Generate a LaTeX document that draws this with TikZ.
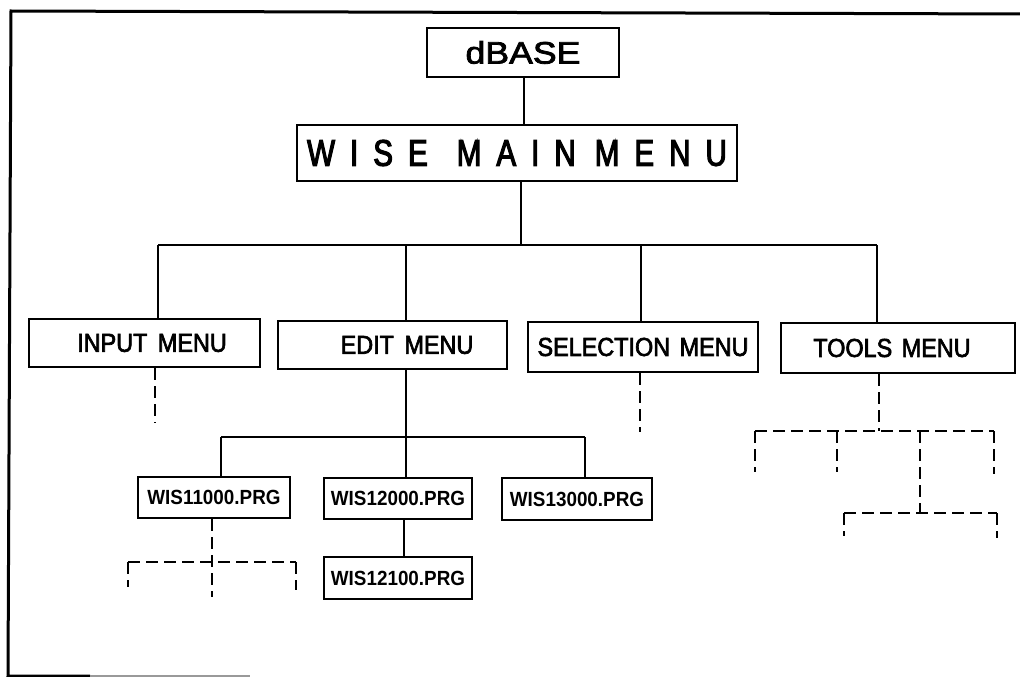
\documentclass[tikz,border=0pt]{standalone}
\usepackage{fontspec}
\setmainfont{Liberation Sans}
\newfontfamily\dbfont[FakeStretch=1.15,FakeBold=2.5]{Liberation Sans}
\newfontfamily\wisefont[FakeStretch=0.8,FakeBold=3]{Liberation Sans}
\newfontfamily\menufont[FakeStretch=0.9,FakeBold=2.5]{Liberation Sans}
\newfontfamily\filefont[FakeStretch=0.92]{Liberation Sans Bold}
\newcommand{\lsp}{\kern15pt}
\begin{document}
\begin{tikzpicture}[x=1pt,y=-1pt,
  box/.style={draw=black, line width=2.8pt, inner sep=0pt, align=center},
  mainline/.style={line width=2.6pt},
  subline/.style={line width=2pt},
  dashline/.style={line width=2.4pt, dash pattern=on 12pt off 6pt},
  frameline/.style={line width=3pt}
]
\useasboundingbox (0,0) rectangle (1020,677);
% frame
\coordinate (ftl) at (11,11);
\coordinate (ftr) at (1022,14);
\coordinate (fbl) at (8,676);
\coordinate (fbm) at (90,676);
\coordinate (fbr) at (250,676);
\draw[frameline] (ftr) -- (ftl) -- (fbl) -- (fbm);
\draw[frameline, black!40] (fbm) -- (fbr);

% top boxes
\node[box, minimum width=192pt, minimum height=49pt] (dbase) at (523,52.5)
  {\dbfont\fontsize{31}{31}\selectfont dBASE};
\node[box, minimum width=440pt, minimum height=56pt] (wise) at (517,153)
  {\wisefont\fontsize{37}{37}\selectfont W\lsp I\lsp S\lsp E\kern29pt M\lsp A\lsp I\lsp N\kern19pt M\lsp E\lsp N\lsp U};

% menu boxes
\node[box, minimum width=231pt, minimum height=48pt] (input) at (144.5,343)
  {\menufont\fontsize{26}{26}\selectfont\hspace*{15pt}INPUT\ \kern4pt MENU};
\node[box, minimum width=229pt, minimum height=48pt] (edit) at (392.5,345)
  {\menufont\fontsize{26}{26}\selectfont\hspace*{29pt}EDIT\ \kern4pt MENU};
\node[box, minimum width=230pt, minimum height=50pt] (sel) at (643,347)
  {\menufont\fontsize{26}{26}\selectfont SELECTION\ \kern3pt MENU};
\node[box, minimum width=234pt, minimum height=50pt] (tools) at (898,348)
  {\menufont\fontsize{26}{26}\selectfont TOOLS\ \kern3pt MENU\hspace*{12pt}};

% program boxes
\node[box, minimum width=152pt, minimum height=41pt] (w11) at (214,497.5)
  {\filefont\fontsize{20.5}{20.5}\selectfont WIS11000.PRG};
\node[box, minimum width=148pt, minimum height=41pt] (w12) at (398,498.5)
  {\filefont\fontsize{20.5}{20.5}\selectfont WIS12000.PRG};
\node[box, minimum width=150pt, minimum height=42pt] (w13) at (577,499)
  {\filefont\fontsize{20.5}{20.5}\selectfont WIS13000.PRG};
\node[box, minimum width=148pt, minimum height=42pt] (w121) at (398,578)
  {\filefont\fontsize{20.5}{20.5}\selectfont WIS12100.PRG};

% main connectors
\coordinate (c1) at (524,0);
\draw[mainline] (dbase.south -| c1) -- (wise.north -| c1);
\coordinate (b0) at (521,245);
\coordinate (bl) at (158,245);
\coordinate (be) at (406,245);
\coordinate (bs) at (641,245);
\coordinate (br) at (877,245);
\draw[mainline] (wise.south -| b0) -- (b0);
\draw[mainline] (bl) -- (br);
\draw[mainline] (bl) -- (bl |- input.north);
\draw[mainline] (be) -- (be |- edit.north);
\draw[mainline] (bs) -- (bs |- sel.north);
\draw[mainline] (br) -- (br |- tools.north);

% edit subtree
\coordinate (sl) at (221,437);
\coordinate (sm) at (406,437);
\coordinate (sr) at (585,437);
\coordinate (sv) at (404,0);
\draw[subline] (edit.south -| sm) -- (sm);
\draw[mainline] (sl) -- (sr);
\draw[subline] (sl) -- (sl |- w11.north);
\draw[subline] (sm) -- (sm |- w12.north);
\draw[subline] (sr) -- (sr |- w13.north);
\draw[subline] (w12.south -| sv) -- (w121.north -| sv);

% dashed stubs under menus
\coordinate (di) at (155,423);
\draw[dashline] (input.south -| di) -- (di);
\coordinate (ds) at (640,432);
\draw[dashline] (sel.south -| ds) -- (ds);

% tools dashed tree
\coordinate (tv) at (879,431);
\coordinate (t1) at (755,431);
\coordinate (t2) at (837,431);
\coordinate (t3) at (920,431);
\coordinate (t4) at (994,431);
\coordinate (t1e) at (755,472);
\coordinate (t2e) at (837,472);
\coordinate (t3e) at (920,513);
\coordinate (t4e) at (994,474);
\draw[dashline] (tools.south -| tv) -- (tv);
\draw[dashline] (t1) -- (t4);
\draw[dashline] (t1) -- (t1e);
\draw[dashline] (t2) -- (t2e);
\draw[dashline] (t3) -- (t3e);
\draw[dashline] (t4) -- (t4e);
\coordinate (u1) at (844,513);
\coordinate (u2) at (997,513);
\coordinate (u1e) at (844,536);
\coordinate (u2e) at (997,538);
\draw[dashline] (u1) -- (u2);
\draw[dashline] (u1) -- (u1e);
\draw[dashline] (u2) -- (u2e);

% w11 dashed tree
\coordinate (wv) at (212,597);
\coordinate (wl) at (128,562);
\coordinate (wr) at (296,562);
\coordinate (wle) at (128,587);
\coordinate (wre) at (296,590);
\draw[dashline] (w11.south -| wv) -- (wv);
\draw[dashline] (wl) -- (wr);
\draw[dashline] (wl) -- (wle);
\draw[dashline] (wr) -- (wre);
\end{tikzpicture}
\end{document}
